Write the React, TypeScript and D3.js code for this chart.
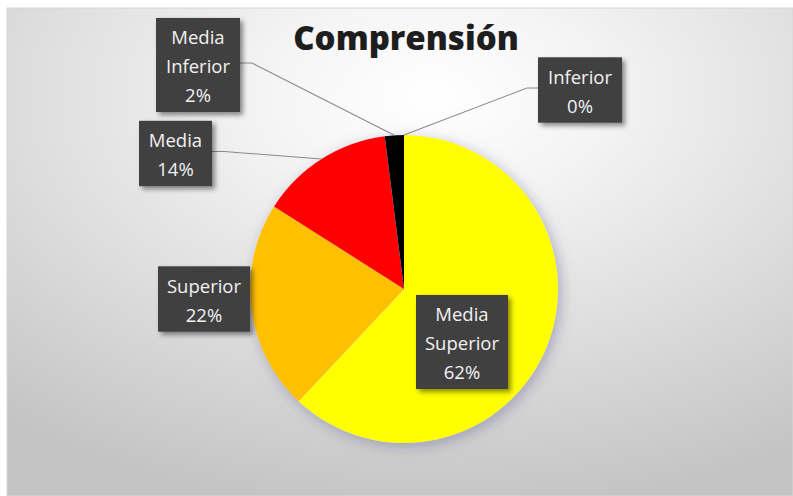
import React from "react";
import * as d3 from "d3";

const categories = ["Inferior", "Media Superior", "Superior", "Media", "Media Inferior"];
const values = [0, 62, 22, 14, 2];
const colors = ["#7f7f7f", "#FFFF00", "#FFC000", "#FF0000", "#000000"];
const title = "Comprensión";

// label layout (box centre, width, leader flag)
const labelLayout = [
  { cx: 580, cy: 90, w: 84, lines: ["Inferior"], leader: "left" },
  { cx: 462, cy: 342, w: 92, lines: ["Media", "Superior"], leader: "none" },
  { cx: 204, cy: 299, w: 92, lines: ["Superior"], leader: "none" },
  { cx: 175.5, cy: 153.5, w: 73, lines: ["Media"], leader: "right" },
  { cx: 198, cy: 65, w: 84, lines: ["Media", "Inferior"], leader: "right" },
];

const W = 793;
const H = 496;
const CX = 404;
const CY = 289;
const R = 154;
const LINE_H = 28.7;

export default function App() {
  const total = d3.sum(values);
  const pie = d3
    .pie<number>()
    .sort(null)
    .value((d) => d)
    .startAngle(0)
    .endAngle(2 * Math.PI);
  const arcs = pie(values);
  const arcGen = d3.arc<d3.PieArcDatum<number>>().innerRadius(0).outerRadius(R);
  const fmt = d3.format(".0%");

  return (
    <svg
      width={W}
      height={H}
      style={{ position: "absolute", left: 0, top: 0, background: "#ffffff" }}
    >
      <defs>
        <radialGradient id="bg" cx="0.54" cy="0.18" r="0.85" gradientUnits="objectBoundingBox">
          <stop offset="0%" stopColor="#ffffff" />
          <stop offset="25%" stopColor="#f4f4f4" />
          <stop offset="60%" stopColor="#dedede" />
          <stop offset="100%" stopColor="#c4c4c4" />
        </radialGradient>
        <filter id="pieShadow" x="-20%" y="-20%" width="140%" height="140%">
          <feDropShadow dx="3" dy="4" stdDeviation="7" floodColor="#7a7aa0" floodOpacity="0.55" />
        </filter>
        <filter id="boxShadow" x="-20%" y="-20%" width="140%" height="140%">
          <feDropShadow dx="3" dy="3" stdDeviation="2.5" floodColor="#000000" floodOpacity="0.45" />
        </filter>
      </defs>
      <rect x={7} y={8} width={W - 7} height={H - 8} fill="url(#bg)" stroke="#d6d6d6" strokeWidth={1} />

      <text
        x={406}
        y={50}
        textAnchor="middle"
        fontFamily="'Open Sans', sans-serif"
        fontWeight={800}
        fontSize={33}
        fill="#1e1e1e"
      >
        {title}
      </text>

      <g filter="url(#pieShadow)">
        {arcs.map((a, i) =>
          a.endAngle - a.startAngle > 0 ? (
            <path key={i} d={arcGen(a) || ""} transform={`translate(${CX},${CY})`} fill={colors[i]} />
          ) : null
        )}
      </g>

      {arcs.map((a, i) => {
        const L = labelLayout[i];
        if (L.leader === "none") return null;
        const mid = (a.startAngle + a.endAngle) / 2;
        const px = CX + R * Math.sin(mid);
        const py = CY - R * Math.cos(mid);
        const n = L.lines.length + 1;
        const h = n * LINE_H + 8;
        const top = L.cy - h / 2;
        const ly = L.cy - 2;
        const bx = L.leader === "right" ? L.cx + L.w / 2 : L.cx - L.w / 2;
        const kx = L.leader === "right" ? bx + 12 : bx - 11;
        void top;
        return (
          <polyline
            key={"l" + i}
            points={`${bx},${ly} ${kx},${ly} ${px},${py}`}
            fill="none"
            stroke="#8a8a8a"
            strokeWidth={1.1}
          />
        );
      })}

      {arcs.map((a, i) => {
        const L = labelLayout[i];
        const lines = [...L.lines, fmt(values[i] / total)];
        const h = lines.length * LINE_H + 8;
        const top = L.cy - h / 2;
        return (
          <g key={"b" + i}>
            <rect
              x={L.cx - L.w / 2}
              y={top}
              width={L.w}
              height={h}
              fill="#404040"
              filter="url(#boxShadow)"
            />
            {lines.map((t, j) => (
              <text
                key={j}
                x={L.cx}
                y={top + 4 + LINE_H * (j + 0.5) + 1.5}
                dy="0.36em"
                textAnchor="middle"
                fontFamily="'Open Sans', sans-serif"
                fontSize={18.5}
                fill="#f2f2f2"
              >
                {t}
              </text>
            ))}
          </g>
        );
      })}
    </svg>
  );
}
